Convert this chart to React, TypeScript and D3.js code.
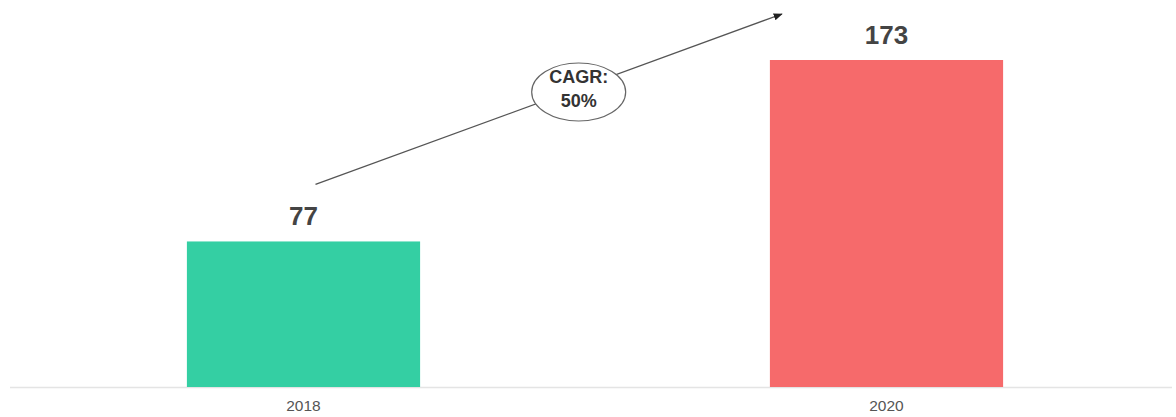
import React from "react";
import * as d3 from "d3";

const categories = ["2018", "2020"];
const values = [77, 173];
const barColors = ["#34cfa3", "#f66a6b"];
const cagrLines = ["CAGR:", "50%"];

const W = 1176;
const H = 417;

export default function App() {
  const x = d3.scaleBand<string>().domain(categories).range([12, 1178]).paddingInner(0.6).paddingOuter(0.3);
  const y = d3.scaleLinear().domain([0, 173]).range([387, 60]);
  const bw = x.bandwidth();

  const x0 = (x(categories[0]) ?? 0) + bw / 2 + 12;
  const y0 = y(values[0]) - 57;
  const x1 = (x(categories[1]) ?? 0) + 12;
  const y1 = y(values[1]) - 46;
  const t = 0.56;
  const ex = x0 + (x1 - x0) * t + 2;
  const ey = y0 + (y1 - y0) * t + 3;

  return (
    <svg width={W} height={H} style={{ position: "absolute", left: 0, top: 0, background: "#fff" }}>
      <defs>
        <marker id="arr" viewBox="0 0 10 10" refX="9" refY="5" markerWidth="7" markerHeight="7" orient="auto">
          <path d="M0,1 L10,5 L0,9 Z" fill="#222" />
        </marker>
      </defs>
      <line x1={10} x2={1172} y1={y(0) + 0.5} y2={y(0) + 0.5} stroke="#e4e4e4" strokeWidth={1.5} />
      {categories.map((c, i) => (
        <g key={c}>
          <rect x={x(c)} y={y(values[i])} width={bw} height={y(0) - y(values[i])} fill={barColors[i]} />
          <text
            x={(x(c) ?? 0) + bw / 2}
            y={y(values[i]) - 16}
            textAnchor="middle"
            fontFamily="Liberation Sans, Arial, sans-serif"
            fontWeight="bold"
            fontSize={26}
            fill="#444"
          >
            {values[i]}
          </text>
          <text
            x={(x(c) ?? 0) + bw / 2}
            y={411}
            textAnchor="middle"
            fontFamily="Liberation Sans, Arial, sans-serif"
            fontSize={15.5}
            fill="#555"
          >
            {c}
          </text>
        </g>
      ))}
      <line x1={x0} y1={y0} x2={x1} y2={y1} stroke="#555" strokeWidth={1.3} markerEnd="url(#arr)" />
      <ellipse cx={ex} cy={ey} rx={47} ry={29} fill="#fff" stroke="#666" strokeWidth={1.2} />
      {cagrLines.map((l, i) => (
        <text
          key={l}
          x={ex}
          y={ey - 9 + i * 23.5}
          textAnchor="middle"
          fontFamily="Liberation Sans, Arial, sans-serif"
          fontWeight="bold"
          fontSize={18}
          fill="#333"
        >
          {l}
        </text>
      ))}
    </svg>
  );
}
